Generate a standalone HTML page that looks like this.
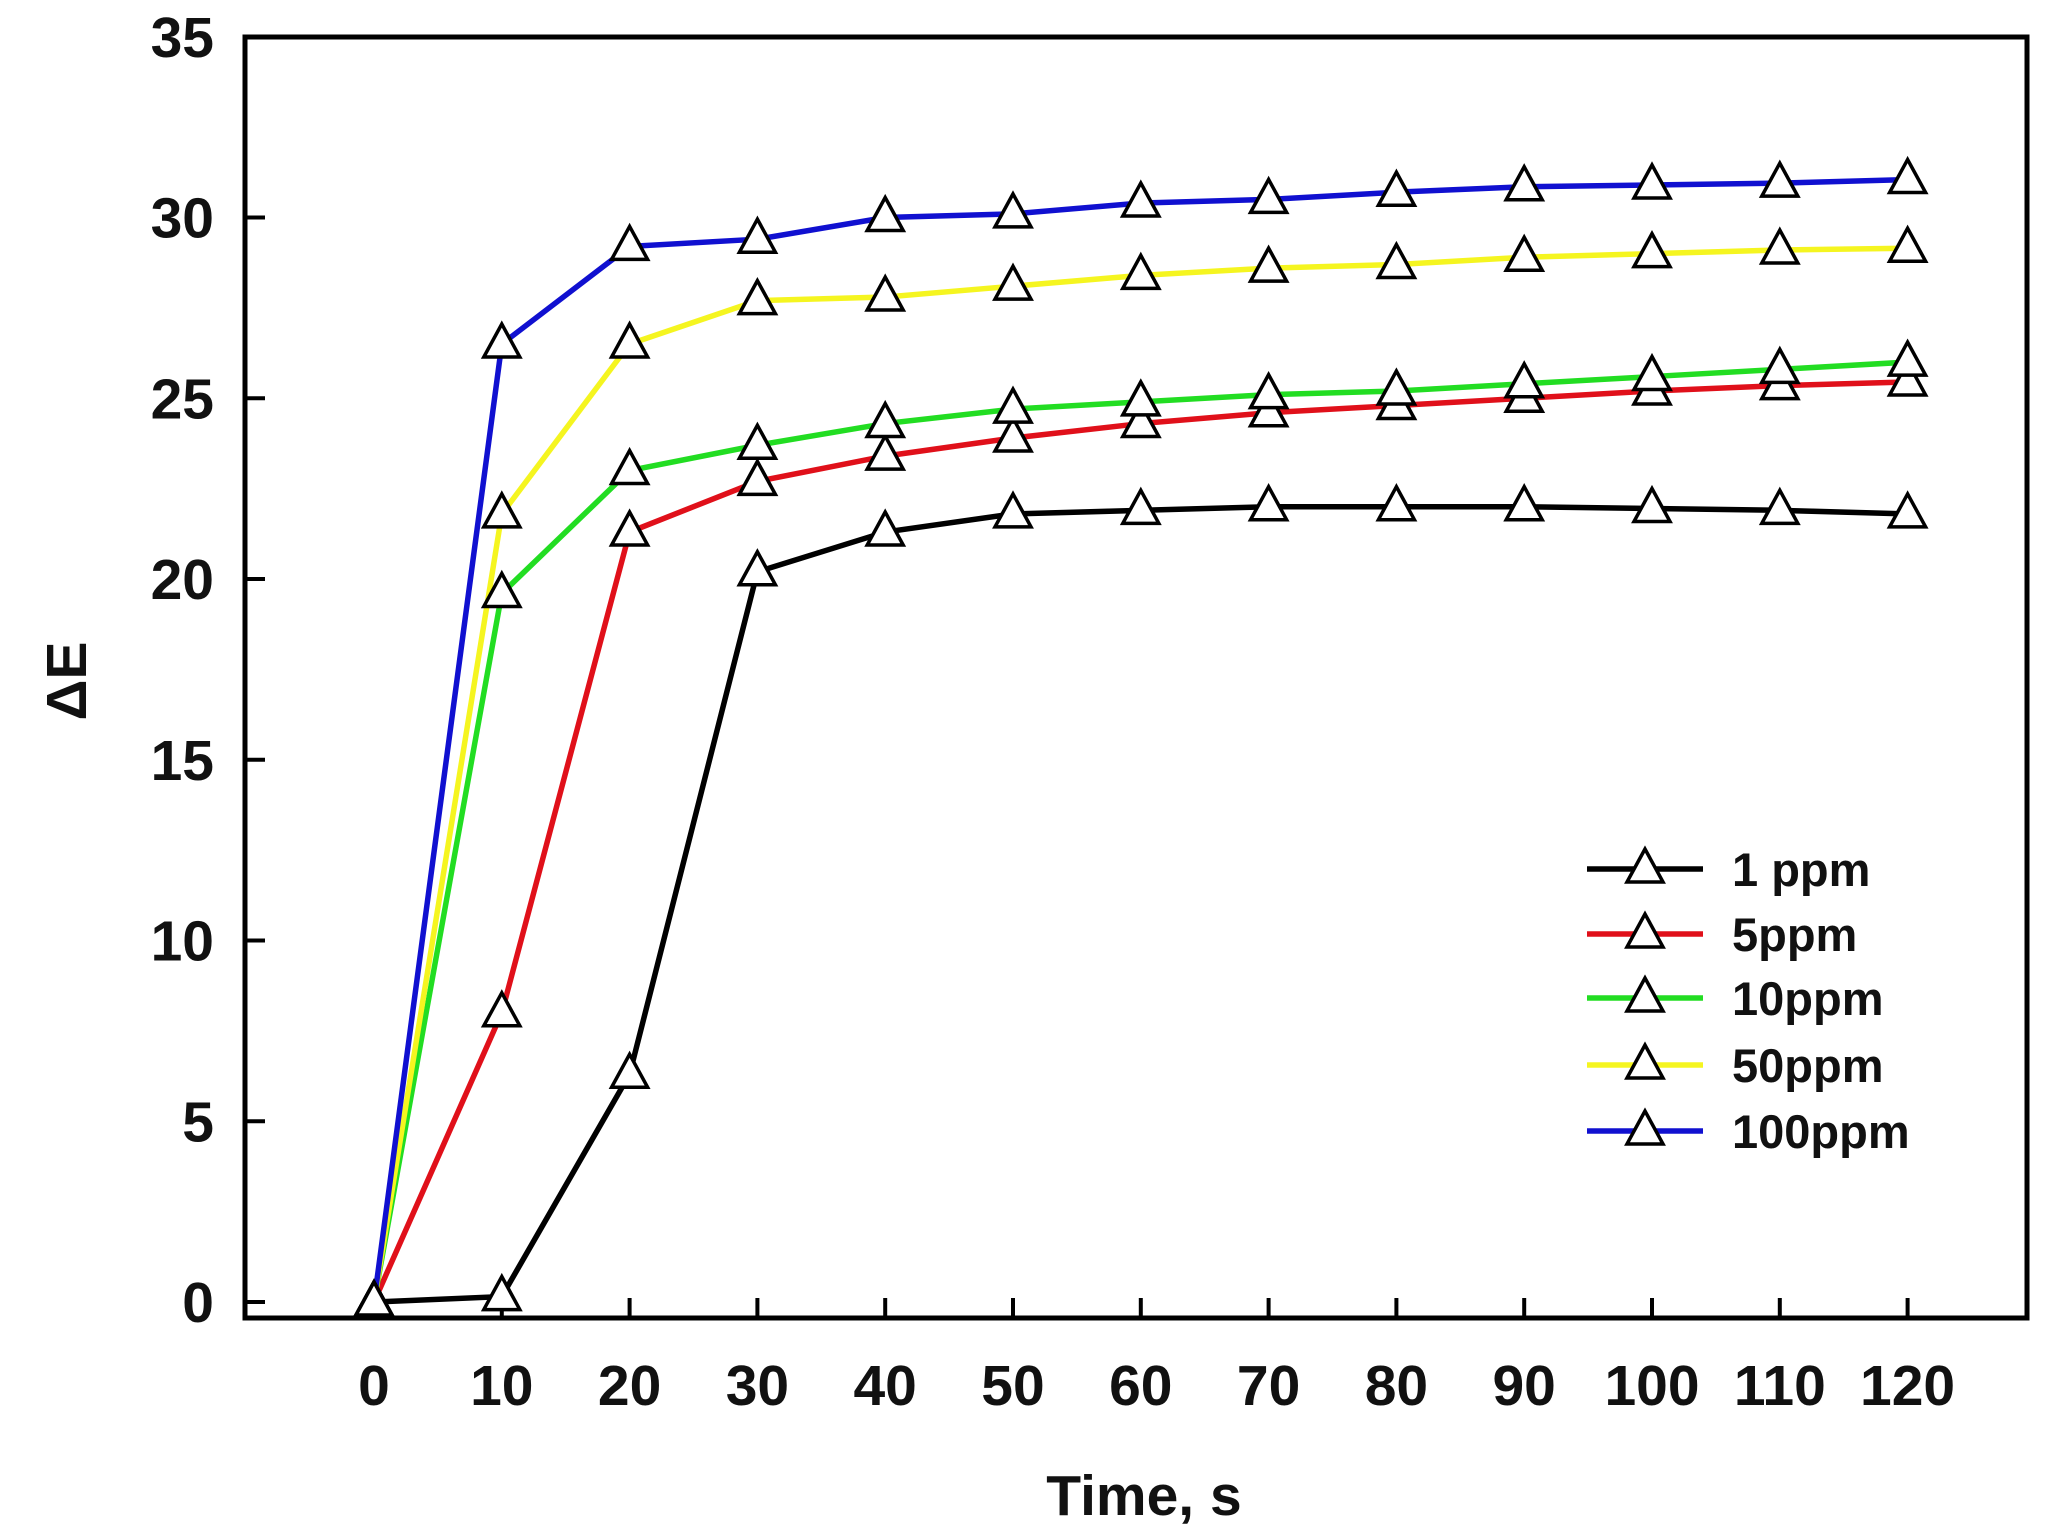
<!DOCTYPE html>
<html><head><meta charset="utf-8"><style>
html,body{margin:0;padding:0;background:#fff}
svg{display:block}
text{font-family:"Liberation Sans",Arial,sans-serif;font-weight:bold;fill:#111}
</style></head><body>
<svg id="s" width="2063" height="1537" viewBox="0 0 2063 1537" xmlns="http://www.w3.org/2000/svg">
<rect width="2063" height="1537" fill="#fff"/>
<g id="g"></g>
<text x="1144" y="1515" font-size="57" text-anchor="middle">Time, s</text>
<text transform="translate(86,681) rotate(-90)" font-size="57" text-anchor="middle">ΔE</text>
</svg>
<script>
const NS="http://www.w3.org/2000/svg",g=document.getElementById('g');
function el(t,a,txt){const e=document.createElementNS(NS,t);for(const k in a)e.setAttribute(k,a[k]);if(txt!=null)e.textContent=txt;g.appendChild(e);return e;}
const L=245,R=2027,T=37,B=1318;
const X=v=>374+v*12.78, Y=v=>1302-v*36.15;
for(let v=0;v<=35;v+=5){const y=Y(v);if(v<35)el('line',{x1:L,x2:L+20,y1:y,y2:y,stroke:'#000','stroke-width':4});
el('text',{x:214,y:y+20,'font-size':57,'text-anchor':'end'},v);}
for(let v=0;v<=120;v+=10){const x=X(v);el('line',{x1:x,x2:x,y1:B,y2:B-20,stroke:'#000','stroke-width':4});
el('text',{x:x,y:1405,'font-size':57,'text-anchor':'middle'},v);}
el('rect',{x:L,y:T,width:R-L,height:B-T,fill:'none',stroke:'#000','stroke-width':5});
const data=[
['#000','1 ppm',[0,0.15,6.3,20.2,21.3,21.8,21.9,22,22,22,21.95,21.9,21.8]],
['#e0101a','5ppm',[0,8,21.3,22.7,23.4,23.9,24.3,24.6,24.8,25,25.2,25.35,25.45]],
['#22dd22','10ppm',[0,19.6,23,23.7,24.3,24.7,24.9,25.1,25.2,25.4,25.6,25.8,26]],
['#f5f520','50ppm',[0,21.8,26.5,27.7,27.8,28.1,28.4,28.6,28.7,28.9,29,29.1,29.15]],
['#1010d0','100ppm',[0,26.5,29.2,29.4,30,30.1,30.4,30.5,30.7,30.85,30.9,30.95,31.05]]];
function tri(x,y){el('polygon',{points:`${x},${y-20} ${x-18},${y+13} ${x+18},${y+13}`,fill:'#fff',stroke:'#000','stroke-width':3.5});}
data.forEach(d=>{el('polyline',{points:d[2].map((v,i)=>X(i*10)+','+Y(v)).join(' '),fill:'none',stroke:d[0],'stroke-width':5.5});});
data.forEach(d=>{d[2].forEach((v,i)=>tri(X(i*10),Y(v)));});
const ly=[869,934,998,1065,1131];
data.forEach((d,i)=>{const y=ly[i];el('line',{x1:1587,x2:1703,y1:y,y2:y,stroke:d[0],'stroke-width':5.5});tri(1645,y);
el('text',{x:1732,y:y+17,'font-size':47},d[1]);});
</script>
</body></html>
